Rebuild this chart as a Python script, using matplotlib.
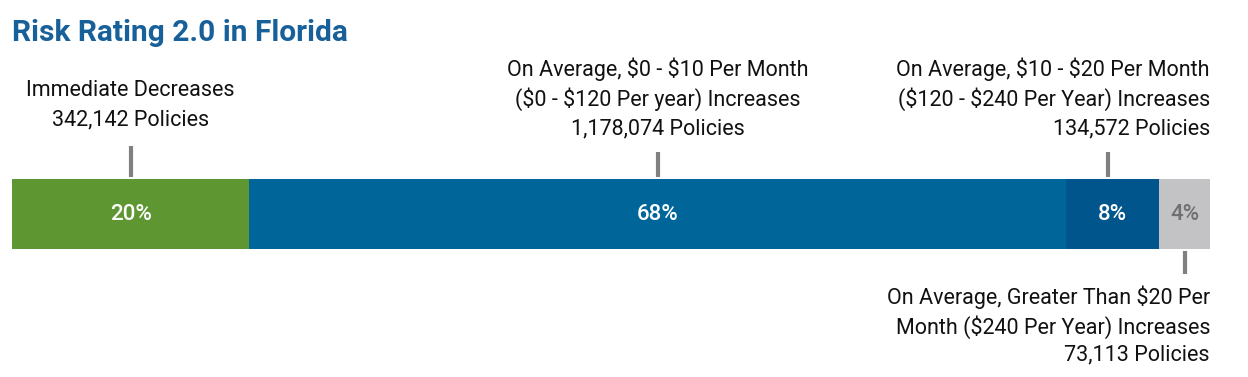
import matplotlib
matplotlib.use("Agg")
import matplotlib.pyplot as plt
import numpy as np

plt.rcParams["font.family"] = ["Roboto", "DejaVu Sans"]
plt.rcParams["text.parse_math"] = False

# data
CATEGORIES = [
    "Immediate Decreases",
    "On Average, $0 - $10 Per Month\n($0 - $120 Per year) Increases",
    "On Average, $10 - $20 Per Month\n($120 - $240 Per Year) Increases",
    "On Average, Greater Than $20 Per\nMonth ($240 Per Year) Increases",
]
POLICIES = [342142, 1178074, 134572, 73113]
PCT_LABELS = ["20%", "68%", "8%", "4%"]
COLORS = ["#5e9732", "#006699", "#00558c", "#c3c3c5"]
PCT_COLORS = ["white", "white", "white", "#707070"]

W, H = 1248, 377
fig = plt.figure(figsize=(W / 100, H / 100), dpi=100)
ax = fig.add_axes([12 / W, 0, 1198 / W, 1])
total = sum(POLICIES)
ax.set_xlim(0, total)
ax.set_ylim(H, 0)
ax.axis("off")

lefts = np.concatenate([[0], np.cumsum(POLICIES)[:-1]])
ax.barh(214, POLICIES, left=lefts, height=70, color=COLORS, linewidth=0)

centers = lefts + np.array(POLICIES) / 2
for c, lab, col in zip(centers, PCT_LABELS, PCT_COLORS):
    ax.text(c, 215, lab, ha="center", va="center", color=col, fontsize=16,
            fontweight="medium")

tick_col = "#808080"
# top ticks
ax.plot([centers[0]] * 2, [146, 177], color=tick_col, lw=3, solid_capstyle="butt")
ax.plot([centers[1]] * 2, [152, 177], color=tick_col, lw=3, solid_capstyle="butt")
ax.plot([centers[2] - total * 0.004] * 2, [152, 177], color=tick_col, lw=3,
        solid_capstyle="butt")
# bottom tick
ax.plot([centers[3]] * 2, [251, 274], color=tick_col, lw=3, solid_capstyle="butt")

fs = 15.5
txt = "#111111"
pol = [f"{p:,} Policies" for p in POLICIES]

# label 1
ax.text(centers[0], 90, CATEGORIES[0], ha="center", va="center", fontsize=fs, color=txt)
ax.text(centers[0], 120, pol[0], ha="center", va="center", fontsize=fs, color=txt)

# label 2
ax.text(centers[1], 84, CATEGORIES[1], ha="center", va="center", fontsize=fs,
        color=txt, linespacing=1.35)
ax.text(centers[1], 129, pol[1], ha="center", va="center", fontsize=fs, color=txt)

# label 3
ax.text(total, 84, CATEGORIES[2], ha="right", va="center", fontsize=fs,
        color=txt, linespacing=1.35, multialignment="right")
ax.text(total, 129, pol[2], ha="right", va="center", fontsize=fs, color=txt)

# label 4
ax.text(total, 312, CATEGORIES[3], ha="right", va="center", fontsize=fs,
        color=txt, linespacing=1.35, multialignment="right")
ax.text(total, 355, pol[3], ha="right", va="center", fontsize=fs, color=txt)

fig.text(12 / W, 1 - 33 / H, "Risk Rating 2.0 in Florida", ha="left", va="center",
         fontsize=21.5, fontweight="bold", color="#17609a")

fig.savefig("out.png", dpi=100)
